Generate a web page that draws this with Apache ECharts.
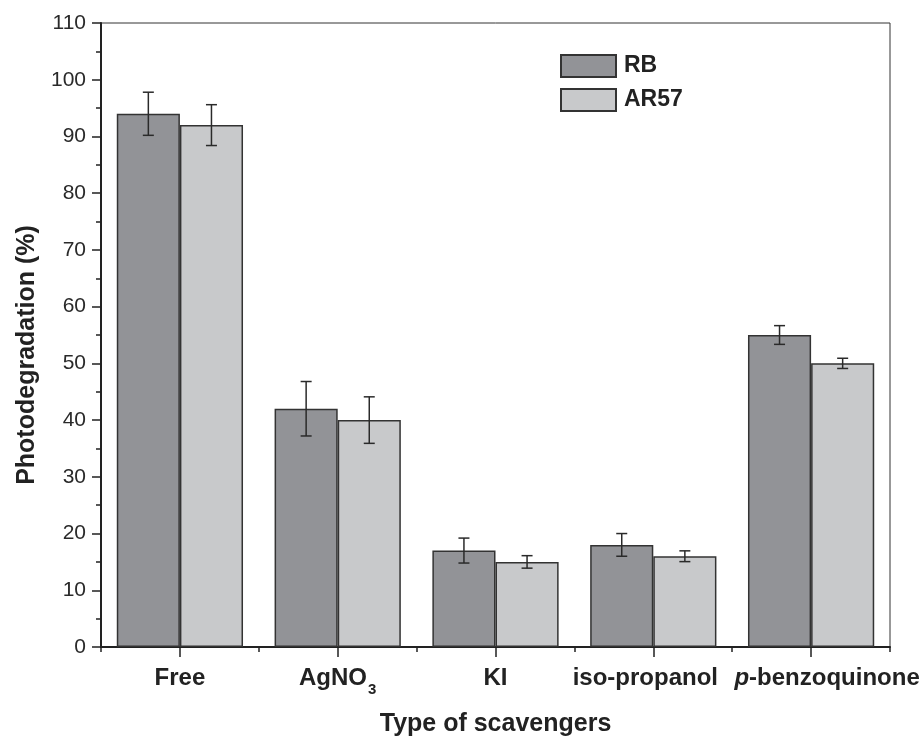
<!DOCTYPE html>
<html><head><meta charset="utf-8">
<script src="https://cdn.jsdelivr.net/npm/echarts@6/dist/echarts.min.js"></script>
<style>html,body{margin:0;padding:0;background:#fff}#c{width:923px;height:736px}</style>
</head><body><div id="c"></div>
<script>
const categories = ['Free', 'AgNO3', 'KI', 'iso-propanol', 'p-benzoquinone'];
const rbValues = [94, 42, 17, 18, 55];
const ar57Values = [92, 40, 15, 16, 50];
const rbErrors = [3.8, 4.8, 2.2, 2.0, 1.65];
const ar57Errors = [3.6, 4.1, 1.1, 0.95, 0.9];
const seriesNames = ['RB', 'AR57'];

const FONT = "'Liberation Sans', Arial, sans-serif";
const chart = echarts.init(document.getElementById('c'), null, {renderer: 'canvas'});

function errData(vals, errs) {
  return vals.map((v, i) => [i, v - errs[i], v + errs[i]]);
}
function errSeries(vals, errs, sign) {
  return {
    type: 'custom',
    xAxisIndex: 0, yAxisIndex: 0,
    z: 5,
    data: errData(vals, errs),
    encode: {x: 0, y: [1, 2]},
    renderItem: function (params, api) {
      const i = api.value(0);
      const lo = api.coord([i, api.value(1)]);
      const hi = api.coord([i, api.value(2)]);
      const band = api.size([1, 0])[0];
      const x = lo[0] + sign * band * 0.2;
      const cap = 5.5;
      const st = {stroke: '#2a2a2a', lineWidth: 1.5};
      return {type: 'group', children: [
        {type: 'line', shape: {x1: x, y1: lo[1], x2: x, y2: hi[1]}, style: st},
        {type: 'line', shape: {x1: x - cap, y1: lo[1], x2: x + cap, y2: lo[1]}, style: st},
        {type: 'line', shape: {x1: x - cap, y1: hi[1], x2: x + cap, y2: hi[1]}, style: st}
      ]};
    }
  };
}

const LBL = {fontSize: 24, fontWeight: 'bold', color: '#222', fontFamily: FONT, lineHeight: 24};

const option = {
  animation: false,
  textStyle: {fontFamily: FONT, color: '#222'},
  grid: {left: 101, right: 33, top: 23, bottom: 89, show: true, borderColor: '#333', borderWidth: 1,
         containLabel: false, outerBoundsMode: 'none'},
  legend: {
    data: seriesNames,
    orient: 'vertical', left: 555, top: 49,
    itemWidth: 55, itemHeight: 22, itemGap: 10,
    icon: 'rect',
    textStyle: {fontSize: 23, fontWeight: 'bold', color: '#222', fontFamily: FONT, padding: [0, 0, 0, 3]}
  },
  xAxis: [{
    type: 'category', data: categories, position: 'bottom',
    name: 'Type of scavengers', nameLocation: 'middle', nameGap: 65,
    nameTextStyle: {fontSize: 25, fontWeight: 'bold', color: '#222', fontFamily: FONT},
    axisLine: {show: true, lineStyle: {color: '#222', width: 2}},
    axisTick: {show: true, alignWithLabel: true, length: 10, lineStyle: {color: '#222', width: 1.5}},
    axisLabel: Object.assign({}, LBL, {
      margin: 25,
      interval: 0,
      formatter: function (v) {
        if (v === 'AgNO3') return '{b|AgNO}{sub|3}';
        if (v === 'p-benzoquinone') return '{it|p}{b|-benzoquinone}';
        if (v === 'iso-propanol') return '{iso|iso-propanol}';
        return '{b|' + v + '}';
      },
      rich: {
        b: Object.assign({}, LBL, {padding: [0, 0, 12, 0]}),
        sub: {fontSize: 15, fontWeight: 'bold', color: '#222', fontFamily: FONT, lineHeight: 24, padding: [12, 0, 0, 1]},
        it: Object.assign({}, LBL, {fontStyle: 'italic', padding: [0, 0, 12, 32]}),
        iso: Object.assign({}, LBL, {padding: [0, 16, 12, 0]})
      }
    }),
    splitLine: {show: false}
  }, {
    type: 'category', data: categories, position: 'bottom',
    axisLine: {show: false},
    axisTick: {show: true, alignWithLabel: false, length: 5, lineStyle: {color: '#222', width: 1.5}},
    axisLabel: {show: false},
    splitLine: {show: false}
  }],
  yAxis: {
    type: 'value', min: 0, max: 110, interval: 10,
    name: 'Photodegradation (%)', nameLocation: 'middle', nameGap: 60,
    nameTextStyle: {fontSize: 25, fontWeight: 'bold', color: '#222', fontFamily: FONT, padding: [0, 40, 0, 0]},
    axisLine: {show: true, lineStyle: {color: '#222', width: 2}},
    axisTick: {show: true, length: 9, lineStyle: {color: '#222', width: 1.5}},
    minorTick: {show: true, splitNumber: 2, length: 5, lineStyle: {color: '#222', width: 1.5}},
    axisLabel: {margin: 15, fontSize: 21, color: '#2a2a2a', fontFamily: FONT},
    splitLine: {show: false}
  },
  series: [{
    name: 'RB', type: 'bar', data: rbValues, barGap: '0%', barCategoryGap: '20%',
    itemStyle: {color: '#929397', borderColor: '#333', borderWidth: 1.5}
  }, {
    name: 'AR57', type: 'bar', data: ar57Values, barGap: '0%', barCategoryGap: '20%',
    itemStyle: {color: '#c8c9cb', borderColor: '#333', borderWidth: 1.5}
  },
  errSeries(rbValues, rbErrors, -1),
  errSeries(ar57Values, ar57Errors, 1)
  ]
};
chart.setOption(option);
</script>
</body></html>
